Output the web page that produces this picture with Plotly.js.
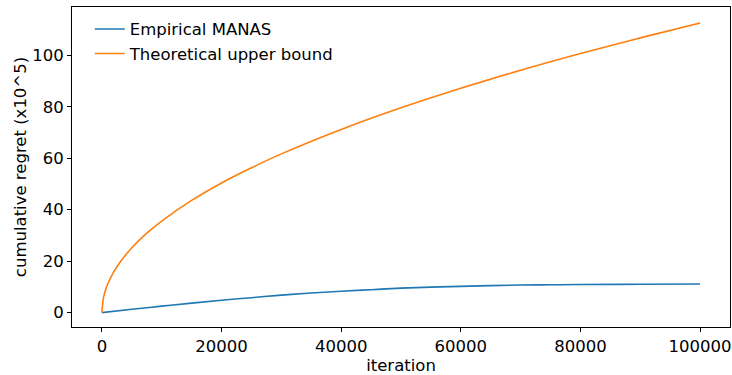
<!DOCTYPE html>
<html>
<head>
<meta charset="utf-8">
<script src="https://cdn.plot.ly/plotly-3.0.1.min.js"></script>
<style>html,body{margin:0;padding:0;background:#fff;}#chart{width:732px;height:375px;}</style>
</head>
<body>
<div id="chart"></div>
<script>
// Data
const iterTheory = [0, 250, 500, 1000, 2000, 3000, 5000, 7500, 10000, 15000, 20000, 25000, 30000, 40000, 50000, 60000, 70000, 80000, 90000, 100000];
const theoryBound = [0, 5.6, 8.0, 11.3, 15.9, 19.5, 25.2, 30.9, 35.6, 43.6, 50.4, 56.3, 61.7, 71.2, 79.6, 87.2, 94.2, 100.7, 106.8, 112.6];
const iterEmp = [0, 5000, 10000, 15000, 20000, 25000, 30000, 35000, 40000, 45000, 50000, 55000, 60000, 65000, 70000, 75000, 80000, 90000, 100000];
const empiricalManas = [0, 1.3, 2.5, 3.7, 4.8, 5.8, 6.8, 7.6, 8.3, 8.9, 9.5, 9.9, 10.2, 10.5, 10.7, 10.8, 10.9, 11.0, 11.1];
const xTicks = [0, 20000, 40000, 60000, 80000, 100000];
const yTicks = [0, 20, 40, 60, 80, 100];

const font = {family: 'DejaVu Sans, sans-serif', size: 16.5, color: '#000'};
const traces = [
  {x: iterEmp, y: empiricalManas, mode: 'lines', name: 'Empirical MANAS',
   line: {color: '#1f77b4', width: 1.6, shape: 'spline'}},
  {x: iterTheory, y: theoryBound, mode: 'lines', name: 'Theoretical upper bound',
   line: {color: '#ff7f0e', width: 1.6, shape: 'spline'}}
];
const axisCommon = {
  showgrid: false, zeroline: false, showline: true, mirror: true,
  linecolor: '#000', linewidth: 1, ticks: 'outside', ticklen: 4, tickwidth: 1,
  tickcolor: '#000', tickfont: font
};
const layout = {
  width: 732, height: 375,
  margin: {l: 72, r: 2, t: 7, b: 48},
  paper_bgcolor: '#fff', plot_bgcolor: '#fff',
  font: font,
  showlegend: true,
  legend: {x: 0.027, y: 0.985, xanchor: 'left', yanchor: 'top', bgcolor: 'rgba(255,255,255,0)',
           font: font, tracegroupgap: 0},
  xaxis: Object.assign({}, axisCommon, {
    range: [-5000, 105000], tickvals: xTicks, ticktext: xTicks.map(String),
    title: {text: 'iteration', font: font, standoff: 2}
  }),
  yaxis: Object.assign({}, axisCommon, {
    range: [-5.6, 118.8], tickvals: yTicks, ticktext: yTicks.map(String),
    title: {text: 'cumulative regret (x10^5)', font: font, standoff: 1}
  })
};
Plotly.newPlot('chart', traces, layout, {displayModeBar: false, staticPlot: true});
</script>
</body>
</html>
